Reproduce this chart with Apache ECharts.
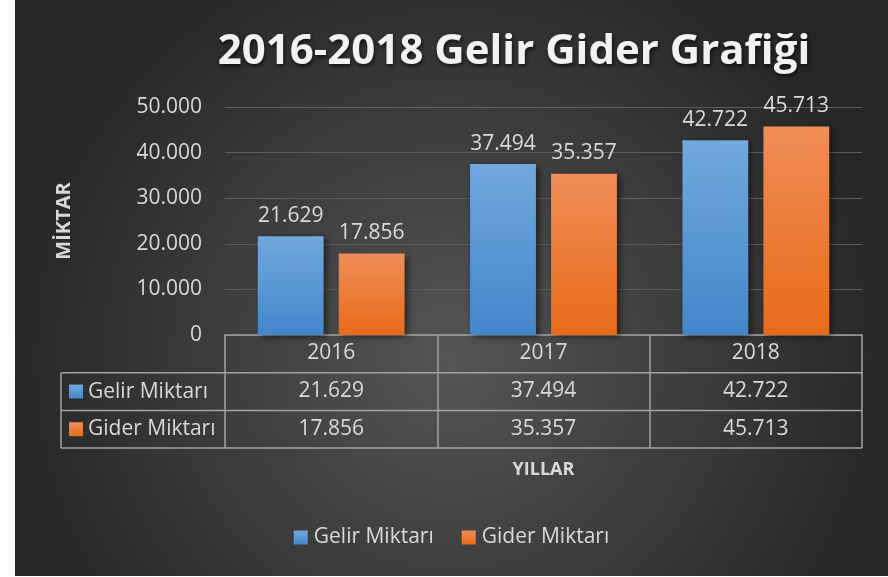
<!DOCTYPE html>
<html>
<head>
<meta charset="utf-8">
<script src="https://cdn.jsdelivr.net/npm/echarts@6.0.0/dist/echarts.min.js"></script>
<style>
  html, body { margin: 0; padding: 0; background: #fff; }
  #chart { position: absolute; left: 15px; top: 0; width: 873px; height: 576px; }
</style>
</head>
<body>
<div id="chart"></div>
<script>
const years = ["2016", "2017", "2018"];
const gelir = [21629, 37494, 42722];
const gider = [17856, 35357, 45713];
const seriesNames = ["Gelir Miktarı", "Gider Miktarı"];
const yTicks = [0, 10000, 20000, 30000, 40000, 50000];

// thousands separator with a dot, like the Turkish Excel sheet
const fmt = (v) => String(v).replace(/\B(?=(\d{3})+(?!\d))/g, ".");

const FONT = "Open Sans";
const TXT = "#d9d9d9";
const LINE = "#a3a3a3";
const FS = 21;

// layout of plot + data table (chart pixels)
const W = 873, H = 576;
const GRID = { left: 210, right: 26, top: 107, bottom: 241 };
const axisY = H - GRID.bottom;
const ROW_H = 37.7;
const TABLE_LEFT = 46;

const blueGrad = new echarts.graphic.LinearGradient(0, 0, 0, 1, [
  { offset: 0, color: "#71a8de" },
  { offset: 1, color: "#4287ca" },
]);
const orangeGrad = new echarts.graphic.LinearGradient(0, 0, 0, 1, [
  { offset: 0, color: "#f08d58" },
  { offset: 1, color: "#e86b18" },
]);

const chart = echarts.init(document.getElementById("chart"));

const rowAxis = (idx, values) => ({
  type: "category",
  gridIndex: 0,
  position: "bottom",
  offset: ROW_H * idx,
  data: values.map(fmt),
  axisLine: { show: false },
  axisTick: { show: false },
  axisLabel: { color: TXT, fontFamily: FONT, fontSize: FS, margin: 8 },
});

// horizontal table lines + left column with series names
const tableGraphics = [];
for (let r = 1; r <= 3; r++) {
  tableGraphics.push({
    type: "line",
    shape: { x1: TABLE_LEFT, y1: axisY + ROW_H * r, x2: W - GRID.right, y2: axisY + ROW_H * r },
    style: { stroke: LINE, lineWidth: 1.5 },
  });
}
tableGraphics.push({
  type: "line",
  shape: { x1: TABLE_LEFT, y1: axisY + ROW_H, x2: TABLE_LEFT, y2: axisY + ROW_H * 3 },
  style: { stroke: LINE, lineWidth: 1.5 },
});
[blueGrad, orangeGrad].forEach((c, i) => {
  const cy = axisY + ROW_H * (i + 1.5);
  tableGraphics.push({
    type: "rect",
    shape: { x: TABLE_LEFT + 8, y: cy - 7, width: 14, height: 14 },
    style: { fill: c },
  });
  tableGraphics.push({
    type: "text",
    x: TABLE_LEFT + 27,
    y: cy,
    style: {
      text: seriesNames[i], fill: TXT, font: `${FS}px "${FONT}"`,
      verticalAlign: "middle", align: "left",
    },
  });
});

const option = {
  backgroundColor: {
    type: "radial", x: 0.5, y: 0.62, r: 0.78,
    colorStops: [
      { offset: 0, color: "#555555" },
      { offset: 1, color: "#262626" },
    ],
  },
  title: {
    text: "2016-2018 Gelir Gider Grafiği",
    left: 494,
    top: 26,
    textAlign: "center",
    textStyle: {
      color: "#f2f2f2", fontFamily: FONT, fontWeight: "bold", fontSize: 42,
      textShadowColor: "rgba(0,0,0,0.7)", textShadowBlur: 4,
      textShadowOffsetX: 1, textShadowOffsetY: 2,
    },
  },
  legend: {
    data: seriesNames,
    bottom: 23,
    left: "center",
    itemWidth: 14,
    itemHeight: 14,
    itemGap: 28,
    icon: "rect",
    textStyle: { color: TXT, fontFamily: FONT, fontSize: FS, padding: [0, 0, 0, 1] },
  },
  grid: { ...GRID, containLabel: false },
  xAxis: [
    {
      type: "category",
      data: years,
      name: "YILLAR",
      nameLocation: "middle",
      nameGap: 126,
      nameTextStyle: { color: TXT, fontFamily: FONT, fontWeight: "bold", fontSize: 18 },
      axisLine: { show: true, lineStyle: { color: LINE, width: 1.5 } },
      axisTick: { show: true, length: ROW_H * 3, lineStyle: { color: LINE, width: 1.5 } },
      axisLabel: { color: TXT, fontFamily: FONT, fontSize: FS, margin: 8 },
    },
    rowAxis(1, gelir),
    rowAxis(2, gider),
  ],
  yAxis: {
    type: "value",
    min: yTicks[0],
    max: yTicks[yTicks.length - 1],
    interval: yTicks[1] - yTicks[0],
    name: "MİKTAR",
    nameLocation: "middle",
    nameRotate: 90,
    nameGap: 151,
    nameTextStyle: { color: TXT, fontFamily: FONT, fontWeight: "bold", fontSize: 20 },
    axisLine: { show: false },
    axisTick: { show: false },
    axisLabel: { color: TXT, fontFamily: FONT, fontSize: FS, margin: 23, formatter: fmt },
    splitLine: { show: true, lineStyle: { color: "#5c5c5c", width: 1 } },
  },
  series: [
    {
      name: seriesNames[0],
      type: "bar",
      data: gelir,
      barWidth: "31%",
      barGap: "23%",
      itemStyle: {
        color: blueGrad,
        shadowColor: "rgba(0,0,0,0.55)", shadowBlur: 7, shadowOffsetX: 3, shadowOffsetY: 2,
      },
      label: {
        show: true, position: "top", distance: 10, formatter: (p) => fmt(p.value),
        color: TXT, fontFamily: FONT, fontSize: FS,
      },
    },
    {
      name: seriesNames[1],
      type: "bar",
      data: gider,
      barWidth: "31%",
      barGap: "23%",
      itemStyle: {
        color: orangeGrad,
        shadowColor: "rgba(0,0,0,0.55)", shadowBlur: 7, shadowOffsetX: 3, shadowOffsetY: 2,
      },
      label: {
        show: true, position: "top", distance: 10, formatter: (p) => fmt(p.value),
        color: TXT, fontFamily: FONT, fontSize: FS,
      },
    },
  ],
  graphic: tableGraphics,
};

chart.setOption(option);
</script>
</body>
</html>
